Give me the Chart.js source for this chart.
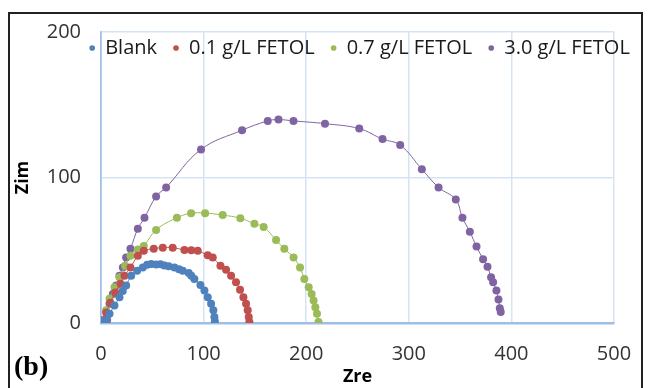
<!DOCTYPE html>
<html>
<head>
<meta charset="utf-8">
<script src="https://cdn.jsdelivr.net/npm/chart.js@4.4.0/dist/chart.umd.min.js"></script>
<style>
    html, body { margin: 0; padding: 0; background: #fff; }
    #wrap { position: relative; width: 652px; height: 388px; overflow: hidden; }
    #frame { position: absolute; left: 8px; top: 12px; width: 635px; height: 420px; border: 2px solid #222; box-sizing: border-box; pointer-events: none; }
    #label { position: absolute; left: 14px; top: 350px; font: bold 28px "Liberation Serif", serif; color: #000; }
    canvas { position: absolute; left: 0; top: 0; }
</style>
</head>
<body>
<div id="wrap">
    <canvas id="chart" width="652" height="388"></canvas>
    <div id="frame"></div>
    <div id="label">(b)</div>
</div>
<script>
// Nyquist data (Zre, Zim)
const seriesNames = ["Blank", "0.1 g/L FETOL", "0.7 g/L FETOL", "3.0 g/L FETOL"];
const seriesColors = ["#4F81BD", "#C0504D", "#9BBB59", "#8064A2"];

const blankZre = [1, 3, 5, 8.3, 13.1, 18, 21.2, 24.5, 29.4, 35.2, 40.7, 45, 48.9, 53.7, 58, 61.8, 66, 71.6, 76, 79.7, 85.5, 88, 91, 96.9, 100.8, 104, 107.3, 109.5, 110.5, 111];
const blankZim = [0.5, 1.5, 2, 6.4, 12, 17.7, 22, 25.7, 32.5, 35.9, 38.2, 40, 40.5, 40.2, 40.3, 39.5, 39, 38.2, 37, 35.9, 34.4, 32.5, 30.3, 26.2, 22.3, 17.7, 13.2, 8.7, 4.1, 1];

const fetol01Zre = [0.5, 2, 5, 9, 14, 19, 22.9, 28.7, 35.9, 41.7, 51.4, 60.2, 69.9, 81.3, 88, 94.3, 104, 108.9, 116.4, 121.9, 126.8, 131.6, 135.5, 138.8, 141.4, 143, 144, 144.6];
const fetol01Zim = [0.5, 2, 7, 14, 21, 27, 32.5, 38.2, 46.2, 49.6, 51.1, 51.8, 51.8, 50.2, 50, 49.6, 46.6, 45, 39.3, 36.6, 32.5, 28, 22.8, 17.7, 13.2, 8.7, 4.1, 0.7];

const fetol07Zre = [3.4, 5, 8.3, 13.1, 18, 23.5, 28.7, 35.9, 41.7, 53.7, 74, 87.8, 101.5, 118.6, 135.8, 149.5, 158.5, 170.6, 178.7, 187.7, 194, 198.2, 202.4, 205.3, 207.2, 208.9, 210.5, 212];
const fetol07Zim = [0.7, 8.7, 16.6, 24.5, 31.4, 39.3, 46.2, 50.5, 53, 64, 72.3, 75.5, 75.5, 74.2, 72, 68.2, 66, 57, 51, 45, 38.2, 30.3, 24.5, 20, 15.5, 10.9, 6.4, 0.7];

const fetol30Zre = [6, 6.6, 8.3, 11.5, 14.8, 18, 21.3, 24.5, 28.7, 35.9, 42.4, 53.7, 63.5, 97.5, 137.5, 162.5, 173, 187.6, 218.3, 251.7, 274.4, 291.6, 312.7, 329, 345.8, 352.3, 359.5, 366, 372.4, 376.7, 380.2, 382.2, 385.4, 387.4, 388.7, 389.6];
const fetol30Zim = [2, 6.4, 13.2, 20, 25.7, 32.5, 38.2, 45, 51.1, 64.8, 72.3, 87, 93.2, 119.3, 132.5, 138.9, 139.8, 138.9, 137, 133.6, 126.4, 122.3, 105.7, 93.2, 84.8, 72.3, 62.7, 52.5, 43.9, 38.7, 31.4, 28, 22.3, 16.2, 10.2, 7.5];

const xTicks = [0, 100, 200, 300, 400, 500];
const yTicks = [0, 100, 200];

const zreSets = [blankZre, fetol01Zre, fetol07Zre, fetol30Zre];
const zimSets = [blankZim, fetol01Zim, fetol07Zim, fetol30Zim];

const datasets = seriesNames.map((name, i) => ({
    label: name,
    data: zreSets[i].map((x, j) => ({x: x, y: zimSets[i][j]})),
    showLine: true,
    tension: 0.4,
    borderColor: seriesColors[i],
    backgroundColor: seriesColors[i],
    borderWidth: 1,
    pointRadius: 4,
    pointBorderWidth: 0,
    pointHoverRadius: 4
}));

const tickFont = {family: "'Open Sans', sans-serif", size: 20};
const gridColor = "#d6e3f3";
const axisColor = "#9dbfe3";

// Excel draws the legend over the top of the plot area: let it take no room
// in the layout, then move it down into the chart area.
const legendInside = {
    id: "legendInside",
    afterInit(chart) {
        const lg = chart.legend;
        const fit = lg.fit.bind(lg);
        lg.fit = function () {
            this.maxWidth = chart.width;
            fit();
            this._realHeight = this.height;
            this.height = 0;
        };
    },
    afterLayout(chart) {
        const lg = chart.legend;
        const area = chart.chartArea;
        const w = Math.max(...lg.lineWidths) + 2 * lg.options.labels.padding;
        const cx = (area.left + area.right) / 2 + 2;
        lg.left = cx - w / 2;
        lg.right = cx + w / 2;
        lg.width = w;
        lg.top = area.top - 10;
        lg.height = lg._realHeight;
        lg.bottom = lg.top + lg.height;
    }
};

new Chart(document.getElementById("chart"), {
    type: "scatter",
    data: {datasets: datasets},
    plugins: [legendInside],
    options: {
        responsive: false,
        animation: false,
        layout: {padding: {left: 0, right: 38, top: 28, bottom: 0}},
        plugins: {
            tooltip: {enabled: false},
            legend: {
                position: "top",
                align: "center",
                labels: {
                    usePointStyle: true,
                    pointStyle: "circle",
                    boxWidth: 6,
                    boxHeight: 4,
                    padding: 16,
                    color: "#1a1a1a",
                    font: {family: "'Open Sans', sans-serif", size: 20}
                }
            }
        },
        scales: {
            x: {
                type: "linear",
                min: 0,
                max: 500,
                afterBuildTicks: s => { s.ticks = xTicks.map(v => ({value: v})); },
                afterFit: s => { s.height = 65; },
                ticks: {padding: 19, color: "#333", font: tickFont},
                grid: {color: ctx => ctx.tick.value === 0 ? axisColor : gridColor, lineWidth: 1.5, drawTicks: false},
                border: {display: true, color: axisColor, width: 2.5},
                title: {display: true, text: "Zre", color: "#000", padding: {top: 0, bottom: 0},
                    font: {family: "'Open Sans', sans-serif", size: 18, weight: "bold"}}
            },
            y: {
                type: "linear",
                min: 0,
                max: 200,
                afterBuildTicks: s => { s.ticks = yTicks.map(v => ({value: v})); },
                afterFit: s => { s.width = 101; },
                ticks: {padding: 20, color: "#333", font: tickFont},
                grid: {color: ctx => ctx.tick.value === 0 ? axisColor : gridColor, lineWidth: 1.5, drawTicks: false},
                border: {display: true, color: axisColor, width: 1.5},
                title: {display: true, text: "Zim", color: "#000", padding: {top: 12, bottom: 0},
                    font: {family: "'Open Sans', sans-serif", size: 18, weight: "bold"}}
            }
        }
    }
});
</script>
</body>
</html>
